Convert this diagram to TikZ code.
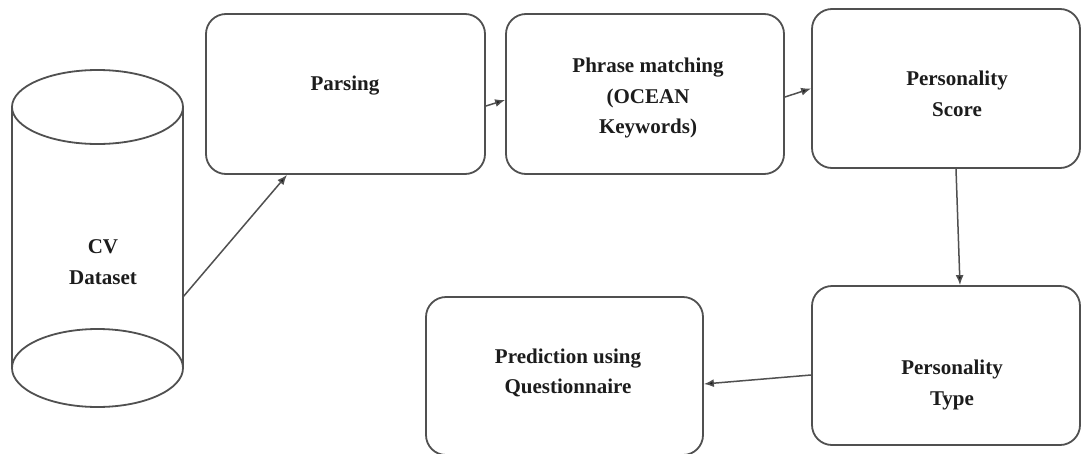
\documentclass[tikz,border=0pt]{standalone}
\usepackage{fontspec}
\setmainfont{Liberation Serif}
\usetikzlibrary{arrows.meta}
\definecolor{edge}{HTML}{505050}
\definecolor{ink}{HTML}{1c1c1c}
\begin{document}
\begin{tikzpicture}[x=1pt,y=-1pt,
  stepbox/.style={draw=edge, line width=1.8pt, rounded corners=20pt, fill=white, inner sep=0pt},
  lbl/.style={text=ink, font=\fontsize{21}{30.5}\selectfont\bfseries, align=center, inner sep=0pt},
  flow/.style={draw=edge, line width=1.5pt, -{Latex[length=10pt,width=8pt,fill=ink]}}
]
\useasboundingbox[fill=white] (0,0) rectangle (1082,453);

% database cylinder
\draw[edge, line width=1.8pt] (12,107) -- (12,368) (183,107) -- (183,368);
\draw[edge, line width=1.8pt, fill=white] (97.5,107) ellipse [x radius=85.5pt, y radius=37pt];
\draw[edge, line width=1.8pt] (97.5,368) ellipse [x radius=85.5pt, y radius=39pt];
\node[lbl] (cv) at (103,262) {CV\\Dataset};
\coordinate (cvout) at (183,297);

% process boxes
\node[stepbox, minimum width=279pt, minimum height=160pt] (parsing) at (345.5,94) {};
\node[stepbox, minimum width=278pt, minimum height=160pt] (phrase) at (645,94) {};
\node[stepbox, minimum width=268pt, minimum height=159pt] (score) at (946,88.5) {};
\node[stepbox, minimum width=268pt, minimum height=159pt] (ptype) at (946,365.5) {};
\node[stepbox, minimum width=277pt, minimum height=158pt] (predict) at (564.5,376) {};

% box texts
\node[lbl] (tparsing) at (345,86) {Parsing};
\node[lbl] (tphrase) at (648,98) {Phrase matching\\(OCEAN\\Keywords)};
\node[lbl] (tscore) at (957,94) {Personality\\Score};
\node[lbl] (tptype) at (952,385) {Personality\\Type};
\node[lbl] (tpredict) at (568,373) {Prediction using\\Questionnaire};

% connectors
\draw[flow] (cvout) -- ([xshift=-58.5pt]parsing.south);
\draw[flow] ([yshift=-12pt]parsing.east) -- ([yshift=-6pt]phrase.west);
\draw[flow] ([yshift=-3pt]phrase.east) -- (score.west);
\draw[flow] ([xshift=10pt]score.south) -- ([xshift=14pt]ptype.north);
\draw[flow] ([yshift=-9.5pt]ptype.west) -- ([yshift=-8pt]predict.east);
\end{tikzpicture}
\end{document}
